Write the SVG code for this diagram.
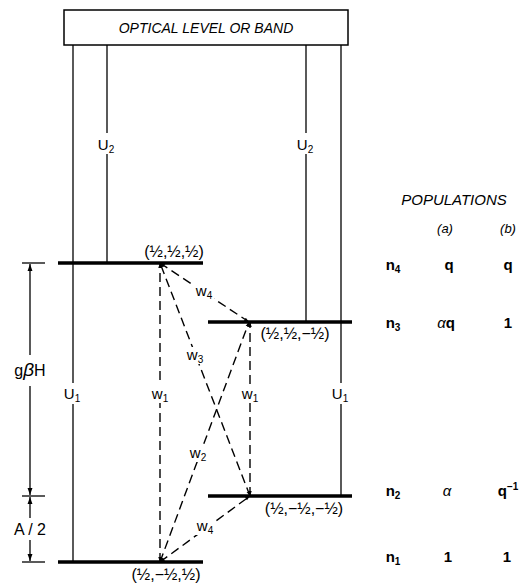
<svg xmlns="http://www.w3.org/2000/svg" width="521" height="583" viewBox="0 0 521 583">
<defs>
<marker id="ah" viewBox="0 0 10 10" refX="10" refY="5" markerWidth="5" markerHeight="5" orient="auto-start-reverse" markerUnits="userSpaceOnUse">
<path d="M0,1.5 L10,5 L0,8.5 Z" fill="#000"/>
</marker>
<marker id="dh" viewBox="0 0 10 10" refX="10" refY="5" markerWidth="7" markerHeight="7" orient="auto-start-reverse" markerUnits="userSpaceOnUse">
<path d="M0,1.5 L10,5 L0,8.5 Z" fill="#000"/>
</marker>
<style>
text{font-family:"Liberation Sans",Arial,sans-serif;fill:#000}
.lv{stroke:#000;stroke-width:3.5;fill:none}
.ln{stroke:#000;stroke-width:1.3;fill:none}
.dl{stroke:#000;stroke-width:1.4;stroke-dasharray:9,5;fill:none}
.lbl{font-size:15px;text-anchor:middle}
.sub{font-size:10px}
.coord{font-size:16px;text-anchor:middle}
.it{font-style:italic}
.bd{font-weight:bold}
.bg{fill:#fff}
</style>
</defs>
<rect width="521" height="583" fill="#fff"/>

<g id="band">
<rect x="64" y="10" width="284" height="35" fill="#fff" stroke="#000" stroke-width="1.5"/>
<text x="206" y="33" class="lbl it" style="font-size:14px">OPTICAL LEVEL OR BAND</text>
</g>

<g id="pumping">
<line class="ln" x1="73" y1="45" x2="73" y2="383"/>
<line class="ln" x1="73" y1="404" x2="73" y2="562"/>
<line class="ln" x1="107" y1="45" x2="107" y2="133"/>
<line class="ln" x1="107" y1="154" x2="107" y2="263"/>
<line class="ln" x1="306" y1="45" x2="306" y2="133"/>
<line class="ln" x1="306" y1="154" x2="306" y2="322"/>
<line class="ln" x1="341" y1="45" x2="341" y2="383"/>
<line class="ln" x1="341" y1="404" x2="341" y2="496"/>
<text x="72" y="399" class="lbl">U<tspan class="sub" dy="3">1</tspan></text>
<text x="106" y="150" class="lbl">U<tspan class="sub" dy="3">2</tspan></text>
<text x="305" y="150" class="lbl">U<tspan class="sub" dy="3">2</tspan></text>
<text x="340" y="399" class="lbl">U<tspan class="sub" dy="3">1</tspan></text>
</g>

<g id="n4">
<line class="lv" x1="58" y1="263" x2="203" y2="263"/>
<text x="174" y="257" class="coord">(½,½,½)</text>
</g>
<g id="n3">
<line class="lv" x1="208" y1="322" x2="352" y2="322"/>
<text x="295" y="339" class="coord">(½,½,−½)</text>
</g>
<g id="n2">
<line class="lv" x1="208" y1="496" x2="352" y2="496"/>
<text x="304" y="514" class="coord">(½,−½,−½)</text>
</g>
<g id="n1">
<line class="lv" x1="58" y1="562" x2="203" y2="562"/>
<text x="166" y="580" class="coord">(½,−½,½)</text>
</g>

<g id="transitions">
<line class="dl" x1="160" y1="562" x2="160" y2="263" marker-start="url(#ah)" marker-end="url(#ah)"/>
<line class="dl" x1="250" y1="496" x2="250" y2="322" marker-start="url(#ah)" marker-end="url(#ah)"/>
<line class="dl" x1="249" y1="322" x2="160" y2="263" marker-start="url(#ah)" marker-end="url(#ah)"/>
<line class="dl" x1="250" y1="496" x2="160" y2="263" marker-start="url(#ah)" marker-end="url(#ah)"/>
<line class="dl" x1="160" y1="562" x2="249" y2="322" marker-start="url(#ah)" marker-end="url(#ah)"/>
<line class="dl" x1="160" y1="562" x2="250" y2="496" marker-start="url(#ah)" marker-end="url(#ah)"/>
<rect class="bg" x="151" y="385" width="18" height="18"/>
<rect class="bg" x="241" y="385" width="18" height="18"/>
<rect class="bg" x="194" y="283" width="20" height="17"/>
<rect class="bg" x="185" y="347" width="20" height="17"/>
<rect class="bg" x="188" y="445" width="20" height="17"/>
<rect class="bg" x="195" y="518" width="20" height="17"/>
<text x="160" y="399" class="lbl">w<tspan class="sub" dy="3">1</tspan></text>
<text x="250" y="399" class="lbl">w<tspan class="sub" dy="3">1</tspan></text>
<text x="204" y="296" class="lbl">w<tspan class="sub" dy="3">4</tspan></text>
<text x="195" y="360" class="lbl">w<tspan class="sub" dy="3">3</tspan></text>
<text x="198" y="458" class="lbl">w<tspan class="sub" dy="3">2</tspan></text>
<text x="205" y="531" class="lbl">w<tspan class="sub" dy="3">4</tspan></text>
</g>

<g id="dimensions">
<line class="ln" x1="22" y1="263" x2="45" y2="263"/>
<line class="ln" x1="22" y1="496" x2="45" y2="496"/>
<line class="ln" x1="22" y1="562" x2="45" y2="562"/>
<line class="ln" x1="30" y1="355" x2="30" y2="264" marker-end="url(#dh)"/>
<line class="ln" x1="30" y1="386" x2="30" y2="495" marker-end="url(#dh)"/>
<line class="ln" x1="30" y1="518" x2="30" y2="497" marker-end="url(#dh)"/>
<line class="ln" x1="30" y1="540" x2="30" y2="561" marker-end="url(#dh)"/>
<text x="30" y="376" class="lbl" style="font-size:16px">g<tspan class="it" style="font-size:19px">β</tspan>H</text>
<text x="30" y="535" class="lbl" style="font-size:16px">A / 2</text>
</g>

<g id="populations">
<text x="454" y="205" class="lbl it">POPULATIONS</text>
<text x="445" y="233" class="lbl it" style="font-size:13px">(a)</text>
<text x="508" y="233" class="lbl it" style="font-size:13px">(b)</text>
<text x="393" y="270" class="lbl bd">n<tspan class="sub" dy="3">4</tspan></text>
<text x="449" y="270" class="lbl bd">q</text>
<text x="508" y="270" class="lbl bd">q</text>
<text x="393" y="328" class="lbl bd">n<tspan class="sub" dy="3">3</tspan></text>
<text x="446" y="328" class="lbl bd"><tspan class="it" font-weight="normal">α</tspan>q</text>
<text x="508" y="328" class="lbl bd">1</text>
<text x="393" y="496" class="lbl bd">n<tspan class="sub" dy="3">2</tspan></text>
<text x="447" y="496" class="lbl it">α</text>
<text x="508" y="496" class="lbl bd">q<tspan class="sub" dy="-6">−1</tspan></text>
<text x="393" y="562" class="lbl bd">n<tspan class="sub" dy="3">1</tspan></text>
<text x="448" y="562" class="lbl bd">1</text>
<text x="507" y="562" class="lbl bd">1</text>
</g>
</svg>
